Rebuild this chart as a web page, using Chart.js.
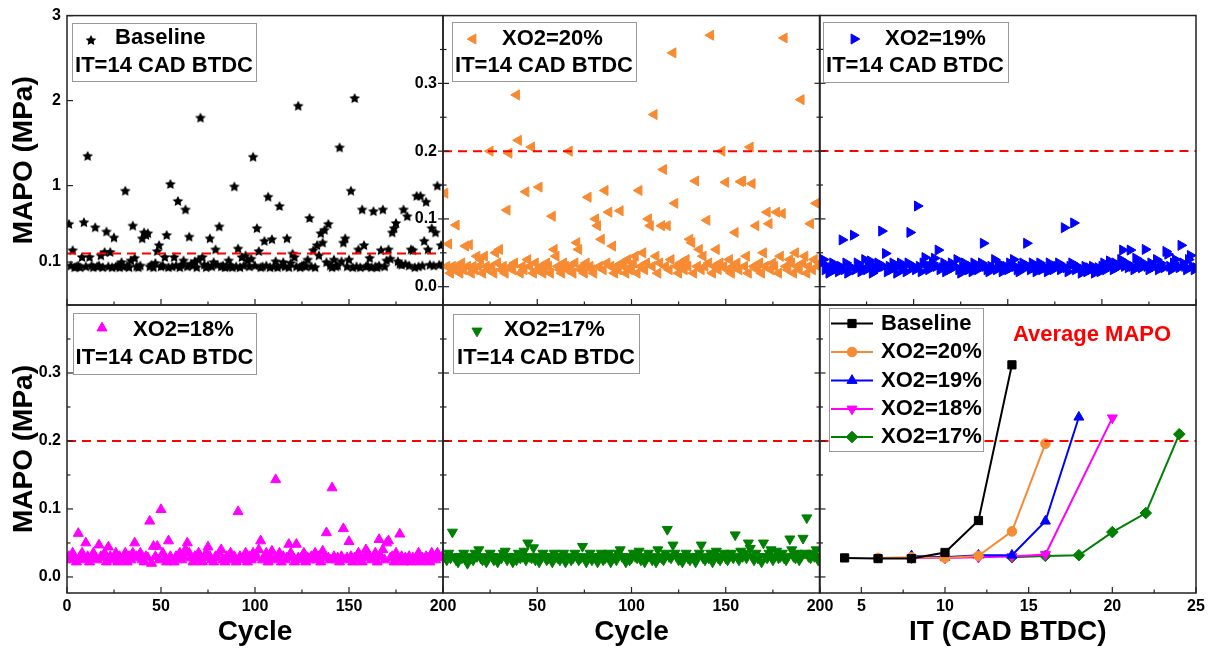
<!DOCTYPE html>
<html>
<head>
<meta charset="utf-8">
<script src="https://cdn.jsdelivr.net/npm/chart.js@4.4.0/dist/chart.umd.min.js"></script>
<style>
  html, body { margin: 0; padding: 0; background: #fff; }
  #wrap { position: relative; width: 1209px; height: 652px; }
  #wrap canvas { position: absolute; left: 0; top: 0; }
</style>
</head>
<body>
<div id="wrap">
  <canvas id="c1" width="1209" height="652"></canvas>
  <canvas id="c2" width="1209" height="652"></canvas>
  <canvas id="c3" width="1209" height="652"></canvas>
  <canvas id="c4" width="1209" height="652"></canvas>
  <canvas id="c5" width="1209" height="652"></canvas>
  <canvas id="c6" width="1209" height="652"></canvas>
</div>
<script>
// ---- data (MAPO in MPa) ----
const baseline = [
  0.55, 0.06, 0.24, 0.04, 0.05, 0.06, 0.04, 0.16, 0.57, 0.05,
  1.35, 0.16, 0.06, 0.04, 0.51, 0.05, 0.06, 0.18, 0.04, 0.22,
  0.46, 0.05, 0.22, 0.04, 0.39, 0.05, 0.06, 0.04, 0.10, 0.05,
  0.94, 0.06, 0.04, 0.12, 0.53, 0.15, 0.05, 0.04, 0.06, 0.38,
  0.45, 0.42, 0.44, 0.05, 0.07, 0.04, 0.09, 0.23, 0.30, 0.05,
  0.06, 0.16, 0.42, 0.04, 1.02, 0.05, 0.16, 0.06, 0.82, 0.04,
  0.07, 0.12, 0.72, 0.05, 0.40, 0.08, 0.06, 0.11, 0.04, 0.13,
  1.80, 0.16, 0.07, 0.04, 0.06, 0.38, 0.05, 0.10, 0.25, 0.07,
  0.52, 0.05, 0.06, 0.04, 0.05, 0.12, 0.06, 0.04, 0.99, 0.05,
  0.26, 0.04, 0.16, 0.06, 0.18, 0.12, 0.05, 0.14, 1.34, 0.06,
  0.50, 0.23, 0.04, 0.05, 0.35, 0.06, 0.87, 0.04, 0.37, 0.05,
  0.11, 0.04, 0.76, 0.06, 0.10, 0.05, 0.38, 0.04, 0.09, 0.20,
  0.16, 0.05, 1.94, 0.04, 0.06, 0.07, 0.05, 0.13, 0.62, 0.05,
  0.24, 0.04, 0.30, 0.18, 0.44, 0.33, 0.48, 0.10, 0.55, 0.06,
  0.04, 0.13, 0.05, 0.06, 1.45, 0.11, 0.33, 0.38, 0.05, 0.13,
  0.94, 0.04, 2.03, 0.05, 0.25, 0.04, 0.72, 0.30, 0.05, 0.06,
  0.15, 0.04, 0.70, 0.05, 0.04, 0.06, 0.24, 0.72, 0.05, 0.12,
  0.25, 0.14, 0.45, 0.50, 0.56, 0.11, 0.08, 0.07, 0.72, 0.08,
  0.64, 0.06, 0.25, 0.24, 0.04, 0.88, 0.05, 0.88, 0.06, 0.35,
  0.81, 0.25, 0.07, 0.50, 0.06, 0.45, 1.00, 0.07, 0.30, 0.08
];
const xo2_20 = [
  0.138, 0.03, 0.063, 0.02, 0.03, 0.025, 0.091, 0.03, 0.02, 0.035,
  0.025, 0.06, 0.03, 0.062, 0.02, 0.03, 0.025, 0.045, 0.03, 0.04,
  0.02, 0.045, 0.03, 0.025, 0.20, 0.03, 0.02, 0.05, 0.035, 0.055,
  0.025, 0.03, 0.02, 0.113, 0.197, 0.03, 0.025, 0.035, 0.283, 0.216,
  0.02, 0.03, 0.025, 0.14, 0.04, 0.03, 0.206, 0.02, 0.035, 0.025,
  0.147, 0.03, 0.02, 0.025, 0.035, 0.03, 0.02, 0.104, 0.055, 0.045,
  0.03, 0.025, 0.02, 0.035, 0.03, 0.025, 0.20, 0.03, 0.02, 0.035,
  0.065, 0.055, 0.025, 0.03, 0.02, 0.035, 0.132, 0.03, 0.025, 0.02,
  0.10, 0.09, 0.03, 0.07, 0.025, 0.142, 0.035, 0.11, 0.03, 0.06,
  0.02, 0.03, 0.025, 0.112, 0.035, 0.03, 0.02, 0.04, 0.025, 0.03,
  0.035, 0.045, 0.02, 0.142, 0.03, 0.05, 0.025, 0.035, 0.10, 0.09,
  0.03, 0.254, 0.045, 0.02, 0.035, 0.09, 0.173, 0.03, 0.09, 0.025,
  0.04, 0.345, 0.123, 0.03, 0.02, 0.035, 0.03, 0.025, 0.04, 0.03,
  0.07, 0.065, 0.02, 0.156, 0.03, 0.055, 0.025, 0.045, 0.03, 0.098,
  0.035, 0.371, 0.02, 0.03, 0.055, 0.025, 0.035, 0.20, 0.03, 0.154,
  0.025, 0.04, 0.02, 0.03, 0.08, 0.035, 0.025, 0.155, 0.156, 0.03,
  0.045, 0.02, 0.206, 0.152, 0.03, 0.09, 0.025, 0.035, 0.02, 0.05,
  0.03, 0.11, 0.093, 0.025, 0.035, 0.03, 0.11, 0.02, 0.045, 0.108,
  0.367, 0.03, 0.025, 0.04, 0.035, 0.02, 0.05, 0.03, 0.025, 0.276,
  0.035, 0.045, 0.02, 0.03, 0.093, 0.025, 0.04, 0.123, 0.03, 0.035
];
const xo2_19 = [
  0.035, 0.04, 0.025, 0.03, 0.02, 0.028, 0.035, 0.025, 0.03, 0.022,
  0.03, 0.069, 0.025, 0.035, 0.02, 0.03, 0.028, 0.076, 0.025, 0.035,
  0.03, 0.022, 0.028, 0.04, 0.025, 0.03, 0.038, 0.02, 0.03, 0.025,
  0.035, 0.028, 0.082, 0.03, 0.049, 0.022, 0.03, 0.025, 0.035, 0.028,
  0.02, 0.03, 0.035, 0.025, 0.03, 0.022, 0.035, 0.08, 0.028, 0.03,
  0.025, 0.119, 0.03, 0.022, 0.035, 0.043, 0.028, 0.025, 0.03, 0.035,
  0.042, 0.03, 0.054, 0.025, 0.028, 0.035, 0.022, 0.03, 0.025, 0.035,
  0.028, 0.03, 0.04, 0.025, 0.02, 0.03, 0.035, 0.028, 0.025, 0.03,
  0.022, 0.035, 0.03, 0.025, 0.028, 0.035, 0.064, 0.03, 0.025, 0.022,
  0.03, 0.028, 0.04, 0.025, 0.035, 0.03, 0.022, 0.028, 0.03, 0.025,
  0.035, 0.028, 0.04, 0.03, 0.025, 0.022, 0.03, 0.035, 0.028, 0.064,
  0.03, 0.025, 0.035, 0.028, 0.022, 0.03, 0.035, 0.025, 0.03, 0.028,
  0.022, 0.035, 0.03, 0.025, 0.028, 0.03, 0.035, 0.025, 0.03, 0.087,
  0.028, 0.022, 0.03, 0.035, 0.094, 0.025, 0.03, 0.028, 0.02, 0.025,
  0.03, 0.022, 0.028, 0.025, 0.03, 0.02, 0.025, 0.028, 0.022, 0.03,
  0.035, 0.025, 0.028, 0.038, 0.03, 0.025, 0.035, 0.028, 0.03, 0.04,
  0.054, 0.03, 0.035, 0.028, 0.054, 0.03, 0.025, 0.042, 0.035, 0.03,
  0.028, 0.035, 0.055, 0.03, 0.025, 0.035, 0.028, 0.03, 0.04, 0.025,
  0.035, 0.03, 0.028, 0.052, 0.048, 0.03, 0.025, 0.035, 0.04, 0.03,
  0.028, 0.061, 0.035, 0.03, 0.025, 0.04, 0.046, 0.03, 0.025, 0.028
];
const xo2_18 = [
  0.03, 0.025, 0.035, 0.028, 0.022, 0.064, 0.03, 0.035, 0.025, 0.05,
  0.03, 0.022, 0.028, 0.035, 0.03, 0.025, 0.047, 0.03, 0.028, 0.035,
  0.022, 0.044, 0.03, 0.025, 0.028, 0.035, 0.022, 0.03, 0.025, 0.028,
  0.035, 0.022, 0.03, 0.025, 0.035, 0.05, 0.03, 0.028, 0.035, 0.025,
  0.022, 0.03, 0.028, 0.082, 0.02, 0.045, 0.03, 0.045, 0.025, 0.099,
  0.035, 0.028, 0.022, 0.053, 0.03, 0.025, 0.022, 0.03, 0.028, 0.035,
  0.025, 0.03, 0.04, 0.05, 0.035, 0.028, 0.022, 0.03, 0.025, 0.035,
  0.03, 0.022, 0.028, 0.035, 0.044, 0.03, 0.025, 0.022, 0.03, 0.028,
  0.035, 0.04, 0.025, 0.022, 0.03, 0.028, 0.035, 0.025, 0.03, 0.022,
  0.096, 0.03, 0.025, 0.028, 0.035, 0.022, 0.03, 0.025, 0.035, 0.028,
  0.03, 0.04, 0.053, 0.025, 0.028, 0.035, 0.022, 0.03, 0.038, 0.025,
  0.143, 0.028, 0.035, 0.022, 0.03, 0.025, 0.028, 0.048, 0.035, 0.03,
  0.022, 0.048, 0.028, 0.025, 0.03, 0.035, 0.022, 0.028, 0.025, 0.03,
  0.028, 0.035, 0.025, 0.03, 0.022, 0.038, 0.03, 0.065, 0.028, 0.025,
  0.131, 0.03, 0.025, 0.028, 0.022, 0.03, 0.071, 0.025, 0.028, 0.052,
  0.03, 0.022, 0.028, 0.025, 0.035, 0.03, 0.022, 0.028, 0.04, 0.035,
  0.03, 0.025, 0.028, 0.035, 0.022, 0.055, 0.03, 0.04, 0.025, 0.05,
  0.053, 0.028, 0.03, 0.022, 0.035, 0.025, 0.063, 0.03, 0.022, 0.028,
  0.025, 0.03, 0.022, 0.028, 0.025, 0.03, 0.035, 0.022, 0.028, 0.025,
  0.03, 0.028, 0.022, 0.035, 0.03, 0.025, 0.035, 0.03, 0.028, 0.032
];
const xo2_17 = [
  0.03, 0.025, 0.035, 0.028, 0.066, 0.03, 0.025, 0.022, 0.03, 0.028,
  0.035, 0.025, 0.02, 0.03, 0.028, 0.025, 0.035, 0.03, 0.04, 0.028,
  0.025, 0.03, 0.022, 0.028, 0.035, 0.03, 0.025, 0.028, 0.022, 0.03,
  0.028, 0.035, 0.038, 0.025, 0.03, 0.028, 0.022, 0.03, 0.025, 0.035,
  0.028, 0.03, 0.038, 0.025, 0.05, 0.03, 0.028, 0.043, 0.025, 0.03,
  0.022, 0.028, 0.035, 0.03, 0.025, 0.028, 0.03, 0.022, 0.035, 0.03,
  0.028, 0.025, 0.03, 0.035, 0.022, 0.028, 0.03, 0.025, 0.028, 0.035,
  0.03, 0.025, 0.028, 0.045, 0.03, 0.022, 0.028, 0.035, 0.025, 0.03,
  0.028, 0.022, 0.03, 0.035, 0.025, 0.028, 0.03, 0.035, 0.022, 0.028,
  0.03, 0.025, 0.035, 0.04, 0.03, 0.028, 0.022, 0.03, 0.025, 0.028,
  0.035, 0.03, 0.028, 0.038, 0.025, 0.03, 0.022, 0.028, 0.035, 0.03,
  0.025, 0.028, 0.022, 0.04, 0.03, 0.028, 0.025, 0.035, 0.070, 0.03,
  0.028, 0.047, 0.035, 0.03, 0.025, 0.028, 0.022, 0.03, 0.035, 0.028,
  0.025, 0.03, 0.028, 0.022, 0.03, 0.035, 0.047, 0.028, 0.025, 0.03,
  0.028, 0.035, 0.022, 0.03, 0.038, 0.028, 0.025, 0.03, 0.035, 0.028,
  0.025, 0.03, 0.035, 0.028, 0.062, 0.03, 0.025, 0.038, 0.03, 0.035,
  0.028, 0.05, 0.042, 0.03, 0.025, 0.035, 0.028, 0.03, 0.022, 0.05,
  0.03, 0.028, 0.035, 0.04, 0.025, 0.03, 0.038, 0.028, 0.03, 0.035,
  0.028, 0.025, 0.03, 0.056, 0.04, 0.03, 0.028, 0.035, 0.025, 0.03,
  0.057, 0.035, 0.087, 0.03, 0.028, 0.035, 0.03, 0.04, 0.025, 0.03
];

// average MAPO against injection timing
const itBase = [4, 6, 8, 10, 12, 14];
const avgBase = [0.028, 0.027, 0.027, 0.036, 0.083, 0.312];
const it20 = [6, 8, 10, 12, 14, 16];
const avg20 = [0.028, 0.029, 0.028, 0.031, 0.067, 0.196];
const it19 = [8, 10, 12, 14, 16, 18];
const avg19 = [0.031, 0.029, 0.032, 0.032, 0.082, 0.235];
const it18 = [8, 10, 12, 14, 16, 20];
const avg18 = [0.028, 0.028, 0.029, 0.030, 0.033, 0.234];
const it17 = [14, 16, 18, 20, 22, 24];
const avg17 = [0.029, 0.031, 0.032, 0.066, 0.094, 0.210];

const knockLimit = 0.2;

// tick labels
const cycleTicks = [0, 50, 100, 150, 200];
const cycleTicksMid = [50, 100, 150, 200];
const cycleMinor = [25, 75, 125, 175];
const itTicks = [5, 10, 15, 20, 25];
const itMinor = [2.5, 7.5, 12.5, 17.5, 22.5];
const baseYTicks = [0.1, 1, 2, 3];
const mapoTicks = [0.0, 0.1, 0.2, 0.3];
const mapoMinor = [0.05, 0.15, 0.25, 0.35];

const cycles = baseline.map((_, i) => i + 1);

// ---- drawing helpers ----
const FONT = '"Liberation Sans", Arial, sans-serif';
Chart.defaults.font.family = FONT;
Chart.defaults.font.weight = 'bold';
Chart.defaults.font.size = 16;
Chart.defaults.color = '#000';

function makeStar(r, color) {
  const c = document.createElement('canvas');
  const s = Math.ceil(r * 2 + 2);
  c.width = s; c.height = s;
  const g = c.getContext('2d');
  g.fillStyle = color;
  g.beginPath();
  for (let k = 0; k < 10; k++) {
    const rr = k % 2 ? r * 0.5 : r;
    const a = -Math.PI / 2 + k * Math.PI / 5;
    g.lineTo(s / 2 + rr * Math.cos(a), s / 2 + rr * Math.sin(a) + 0.5);
  }
  g.closePath();
  g.fill();
  return c;
}
const starImg = makeStar(5.6, '#000');

const mk = {
  base: { style: starImg, rot: 0, color: '#000', r: 5.6 },
  o20: { style: 'triangle', rot: -90, color: '#F68B33', r: 5.8 },
  b19: { style: 'triangle', rot: 90, color: '#0000FF', r: 5.8 },
  m18: { style: 'triangle', rot: 0, color: '#FF00FF', r: 5.8 },
  g17: { style: 'triangle', rot: 180, color: '#008000', r: 5.8 },
  lBase: { style: 'rect', rot: 0, color: '#000', r: 5.8 },
  l20: { style: 'circle', rot: 0, color: '#F68B33', r: 4.8 },
  l19: { style: 'triangle', rot: 0, color: '#0000FF', r: 5.8 },
  l18: { style: 'triangle', rot: 180, color: '#FF00FF', r: 5.8 },
  l17: { style: 'rectRot', rot: 0, color: '#008000', r: 5.8 }
};

function drawMarker(ctx, m, x, y) {
  ctx.save();
  ctx.translate(x, y);
  if (typeof m.style !== 'string') {
    ctx.drawImage(m.style, -m.style.width / 2, -m.style.height / 2);
    ctx.restore();
    return;
  }
  ctx.rotate(m.rot * Math.PI / 180);
  ctx.fillStyle = m.color;
  ctx.strokeStyle = m.color;
  ctx.lineWidth = 1;
  ctx.beginPath();
  const r = m.r;
  if (m.style === 'triangle') {
    for (let k = 0; k < 3; k++) {
      const a = k * 2 * Math.PI / 3;
      ctx.lineTo(Math.sin(a) * r, -Math.cos(a) * r);
    }
  } else if (m.style === 'rect') {
    const h = Math.SQRT1_2 * r;
    ctx.rect(-h, -h, 2 * h, 2 * h);
  } else if (m.style === 'rectRot') {
    ctx.moveTo(0, -r); ctx.lineTo(r, 0); ctx.lineTo(0, r); ctx.lineTo(-r, 0);
  } else {
    ctx.arc(0, 0, r, 0, Math.PI * 2);
  }
  ctx.closePath();
  ctx.fill();
  ctx.stroke();
  ctx.restore();
}

function pointOpts(m) {
  return {
    pointStyle: m.style, pointRotation: m.rot, pointRadius: m.r,
    pointBackgroundColor: m.color, pointBorderColor: m.color, pointBorderWidth: 1
  };
}

function scatterSet(values, m) {
  return Object.assign({ data: values.map((v, i) => ({ x: cycles[i], y: v })) }, pointOpts(m));
}

function limitSet(x0, x1) {
  return {
    data: [{ x: x0, y: knockLimit }, { x: x1, y: knockLimit }],
    showLine: true, borderColor: '#FF0000', borderWidth: 2, borderDash: [9, 6], pointRadius: 0
  };
}

function lineSet(xs, ys, m) {
  return Object.assign({
    data: xs.map((x, i) => ({ x: x, y: ys[i] })),
    showLine: true, borderColor: m.color, borderWidth: 2
  }, pointOpts(m));
}

// frame, inward ticks and in-plot legends
const panelPlugin = {
  id: 'panel',
  afterDraw(chart, args, o) {
    const { ctx, chartArea: a } = chart;
    const xs = chart.scales.x, ys = chart.scales.y;
    ctx.save();
    ctx.strokeStyle = '#222';
    ctx.lineWidth = 1.5;
    ctx.strokeRect(a.left, a.top, a.right - a.left, a.bottom - a.top);
    ctx.lineWidth = 1.2;
    const seg = (x1, y1, x2, y2) => { ctx.beginPath(); ctx.moveTo(x1, y1); ctx.lineTo(x2, y2); ctx.stroke(); };
    const back = o.cross ? 5 : 0;
    o.yMajor.forEach(v => { const y = ys.getPixelForValue(v); seg(a.left - back, y, a.left + 6, y); });
    o.yMinor.forEach(v => { const y = ys.getPixelForValue(v); seg(a.left - back * 0.6, y, a.left + 3.5, y); });
    o.xMajor.forEach(v => { const x = xs.getPixelForValue(v); seg(x, a.bottom, x, a.bottom - 6); });
    o.xMinor.forEach(v => { const x = xs.getPixelForValue(v); seg(x, a.bottom, x, a.bottom - 3.5); });

    const lg = o.legend;
    const [l, t, r, b] = lg.box;
    ctx.fillStyle = '#fff';
    ctx.fillRect(l, t, r - l, b - t);
    ctx.strokeStyle = '#999';
    ctx.lineWidth = 1;
    ctx.strokeRect(l + 0.5, t + 0.5, r - l, b - t);
    (lg.marks || []).forEach(it => {
      if (it.line) {
        ctx.strokeStyle = it.m.color;
        ctx.lineWidth = 2;
        seg(it.line[0], it.y, it.line[1], it.y);
      }
      drawMarker(ctx, it.m, it.x, it.y);
    });
    (lg.texts || []).forEach(tx => {
      ctx.font = 'bold ' + (tx.size || 22) + 'px ' + FONT;
      ctx.fillStyle = tx.color || '#000';
      ctx.textAlign = tx.align || 'left';
      ctx.textBaseline = 'middle';
      ctx.fillText(tx.text, tx.x, tx.y);
    });
    ctx.restore();
  }
};

function panel(id, p) {
  return new Chart(document.getElementById(id), {
    type: 'scatter',
    data: { datasets: p.datasets },
    options: {
      responsive: false,
      animation: false,
      events: [],
      layout: { autoPadding: false, padding: p.pad },
      plugins: { legend: { display: false }, tooltip: { enabled: false }, panel: p.panel },
      scales: {
        x: {
          type: 'linear', min: p.xMin, max: p.xMax,
          afterFit: s => { s.height = p.xH; },
          afterBuildTicks: s => { s.ticks = p.xTicks.map(v => ({ value: v })); },
          ticks: { display: p.xLabels, padding: 4, maxRotation: 0, autoSkip: false, callback: v => String(v) },
          grid: { display: false, drawTicks: false },
          border: { display: false },
          title: { display: !!p.xTitle, text: p.xTitle, font: { size: 28, weight: 'bold' }, padding: { top: 0, bottom: 3 } }
        },
        y: {
          type: 'linear', min: p.yMin, max: p.yMax,
          afterFit: s => { s.width = p.yW; },
          afterBuildTicks: s => { s.ticks = p.yTicks.map(v => ({ value: v })); },
          ticks: { display: p.yLabels, padding: 6, autoSkip: false, callback: p.yFmt },
          grid: { display: false, drawTicks: false },
          border: { display: false },
          title: { display: !!p.yTitle, text: p.yTitle, font: { size: 28, weight: 'bold' }, padding: { top: 7, bottom: 0 } }
        }
      }
    },
    plugins: [panelPlugin]
  });
}

const itLine = (x, y) => ({ text: 'IT=14 CAD BTDC', x: x, y: y, align: 'center' });
const fmt1 = v => v.toFixed(1);

// top-left: baseline
panel('c1', {
  datasets: [limitSet(0, 200), scatterSet(baseline, mk.base)],
  pad: { left: 0, right: 766, top: 15.5, bottom: 347 },
  xMin: 0, xMax: 200, xH: 0, xTicks: cycleTicks, xLabels: false,
  yMin: -0.405, yMax: 3, yW: 67, yTicks: baseYTicks, yLabels: true, yFmt: v => String(v), yTitle: 'MAPO (MPa)',
  panel: {
    cross: false, yMajor: baseYTicks, yMinor: [], xMajor: cycleTicks, xMinor: cycleMinor,
    legend: {
      box: [72, 23, 256, 81],
      marks: [{ m: mk.base, x: 91, y: 40 }],
      texts: [{ text: 'Baseline', x: 115, y: 38 }, itLine(164, 66)]
    }
  }
});

// top-middle: XO2=20%
panel('c2', {
  datasets: [limitSet(0, 200), scatterSet(xo2_20, mk.o20)],
  pad: { left: 403, right: 389, top: 15.5, bottom: 347 },
  xMin: 0, xMax: 200, xH: 0, xTicks: cycleTicks, xLabels: false,
  yMin: -0.027, yMax: 0.4, yW: 40, yTicks: mapoTicks, yLabels: true, yFmt: fmt1,
  panel: {
    cross: true, yMajor: mapoTicks, yMinor: mapoMinor, xMajor: cycleTicks, xMinor: cycleMinor,
    legend: {
      box: [452, 22, 636, 81],
      marks: [{ m: mk.o20, x: 473, y: 39 }],
      texts: [{ text: 'XO2=20%', x: 502, y: 39 }, itLine(544, 66)]
    }
  }
});

// top-right: XO2=19%
panel('c3', {
  datasets: [limitSet(0, 200), scatterSet(xo2_19, mk.b19)],
  pad: { left: 819.5, right: 13, top: 15.5, bottom: 347 },
  xMin: 0, xMax: 200, xH: 0, xTicks: cycleTicks, xLabels: false,
  yMin: -0.027, yMax: 0.4, yW: 0, yTicks: mapoTicks, yLabels: false, yFmt: fmt1,
  panel: {
    cross: true, yMajor: mapoTicks, yMinor: mapoMinor, xMajor: cycleTicks, xMinor: cycleMinor,
    legend: {
      box: [823, 22, 1008, 82],
      marks: [{ m: mk.b19, x: 854, y: 39 }],
      texts: [{ text: 'XO2=19%', x: 885, y: 39 }, itLine(915, 66)]
    }
  }
});

// bottom-left: XO2=18%
panel('c4', {
  datasets: [limitSet(0, 200), scatterSet(xo2_18, mk.m18)],
  pad: { left: 0, right: 766, top: 305, bottom: 0 },
  xMin: 0, xMax: 200, xH: 59, xTicks: cycleTicks, xLabels: true, xTitle: 'Cycle',
  yMin: -0.0236, yMax: 0.4, yW: 67, yTicks: mapoTicks, yLabels: true, yFmt: fmt1, yTitle: 'MAPO (MPa)',
  panel: {
    cross: false, yMajor: mapoTicks, yMinor: mapoMinor, xMajor: cycleTicks, xMinor: cycleMinor,
    legend: {
      box: [73, 313, 256, 374],
      marks: [{ m: mk.m18, x: 102, y: 328 }],
      texts: [{ text: 'XO2=18%', x: 133, y: 329.5 }, itLine(164.5, 358)]
    }
  }
});

// bottom-middle: XO2=17%
panel('c5', {
  datasets: [limitSet(0, 200), scatterSet(xo2_17, mk.g17)],
  pad: { left: 443, right: 389, top: 305, bottom: 0 },
  xMin: 0, xMax: 200, xH: 59, xTicks: cycleTicksMid, xLabels: true, xTitle: 'Cycle',
  yMin: -0.0236, yMax: 0.4, yW: 0, yTicks: mapoTicks, yLabels: false, yFmt: fmt1,
  panel: {
    cross: true, yMajor: mapoTicks, yMinor: mapoMinor, xMajor: cycleTicks, xMinor: cycleMinor,
    legend: {
      box: [453, 314, 639, 373],
      marks: [{ m: mk.g17, x: 477, y: 331 }],
      texts: [{ text: 'XO2=17%', x: 504, y: 330 }, itLine(546, 358)]
    }
  }
});

// bottom-right: average MAPO against IT
const rowY = [323.5, 352, 380.5, 409, 437];
const rowNames = ['Baseline', 'XO2=20%', 'XO2=19%', 'XO2=18%', 'XO2=17%'];
const rowMarks = [mk.lBase, mk.l20, mk.l19, mk.l18, mk.l17];
panel('c6', {
  datasets: [
    limitSet(2.5, 25),
    lineSet(itBase, avgBase, mk.lBase),
    lineSet(it20, avg20, mk.l20),
    lineSet(it19, avg19, mk.l19),
    lineSet(it18, avg18, mk.l18),
    lineSet(it17, avg17, mk.l17)
  ],
  pad: { left: 819.5, right: 13, top: 305, bottom: 0 },
  xMin: 2.5, xMax: 25, xH: 59, xTicks: itTicks, xLabels: true, xTitle: 'IT (CAD BTDC)',
  yMin: -0.0236, yMax: 0.4, yW: 0, yTicks: mapoTicks, yLabels: false, yFmt: fmt1,
  panel: {
    cross: true, yMajor: mapoTicks, yMinor: mapoMinor, xMajor: itTicks, xMinor: itMinor,
    legend: {
      box: [829, 308, 983, 451],
      marks: rowMarks.map((m, i) => ({ m: m, x: 852, y: rowY[i], line: [831, 873] })),
      texts: rowNames.map((n, i) => ({ text: n, x: 881, y: rowY[i] })).concat([
        { text: 'Average MAPO', x: 1092, y: 335, align: 'center', color: '#FF0000' }
      ])
    }
  }
});
</script>
</body>
</html>
